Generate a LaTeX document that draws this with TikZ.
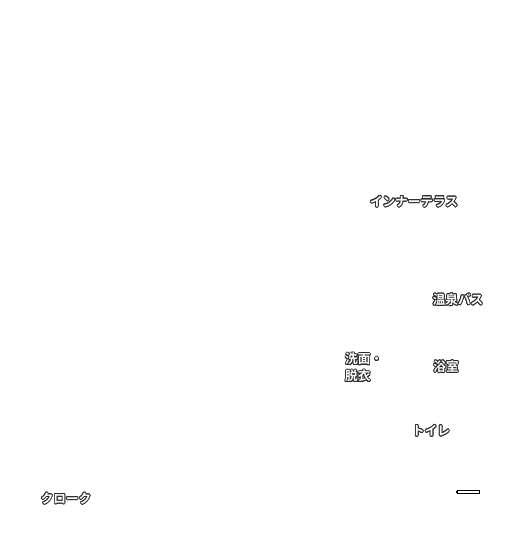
\documentclass[tikz,border=0pt]{standalone}
\usepackage{fontspec}
\newfontfamily\jpfont{Noto Sans CJK JP}[BoldFont={* Bold}]
\usepackage{contour}
\contourlength{0.9pt}
\contournumber{16}
\definecolor{halo}{HTML}{2E2E2E}
\begin{document}
\begin{tikzpicture}[x=1pt,y=-1pt,
  lbl/.style={inner sep=0pt, font=\jpfont\bfseries\fontsize{12.6}{17}\selectfont, align=left},
  bar/.style={draw=black, line width=0.8pt, fill=white}]
\useasboundingbox (0,0) rectangle (520,535);
\newcommand\hl[1]{\contour{halo}{\textcolor{white}{#1}}}
\node[lbl] (terrace) at (414,202) {\hl{インナーテラス}};
\node[lbl] (onsen) at (458,300) {\hl{温泉バス}};
\node[lbl, anchor=west] (senmen) at (345,368) {\hl{洗面・}\\\hl{脱衣}};
\node[lbl] (yokushitsu) at (446,367) {\hl{浴室}};
\node[lbl] (toilet) at (431,431) {\hl{トイレ}};
\node[lbl] (cloak) at (66,499) {\hl{クローク}};
\draw[bar] (457,490.5) rectangle (479,493);
\fill[black] (455.5,490.5) rectangle (457.5,493);
\end{tikzpicture}
\end{document}
